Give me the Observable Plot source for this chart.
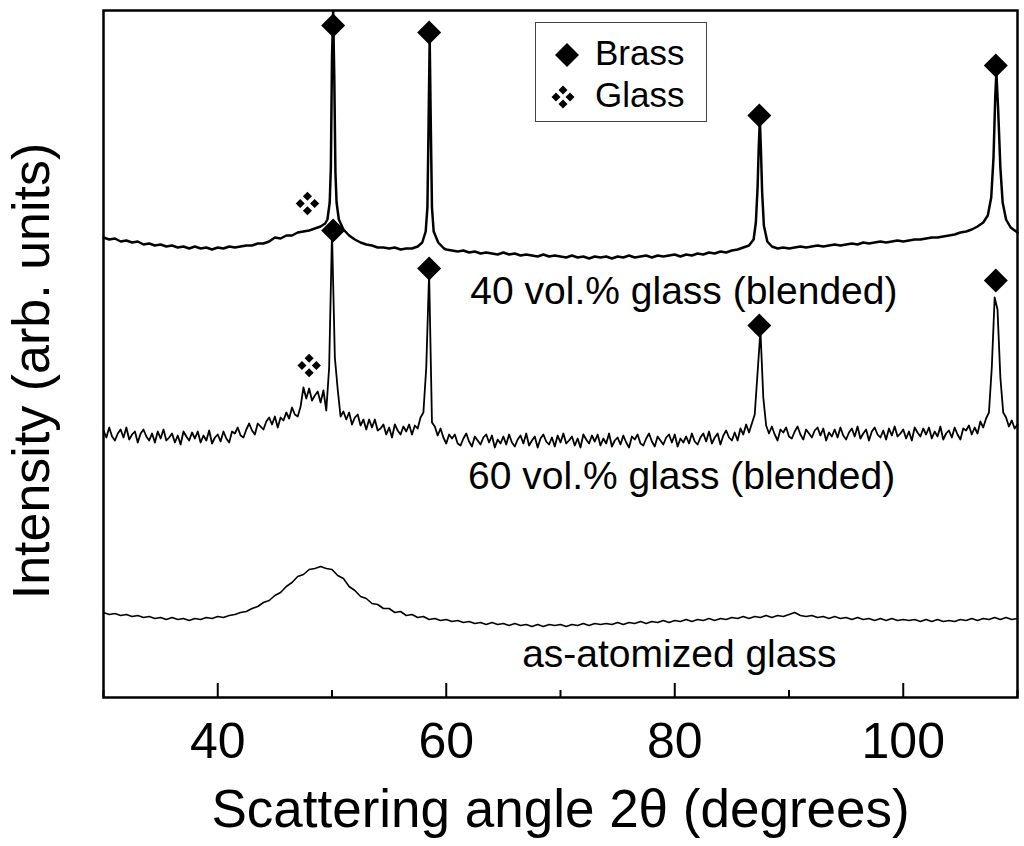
<!DOCTYPE html>
<html>
<head>
<meta charset="utf-8">
<script src="https://cdn.jsdelivr.net/npm/d3@7"></script>
<script src="https://cdn.jsdelivr.net/npm/@observablehq/plot@0.6"></script>
<style>
  html, body { margin: 0; padding: 0; background: #fff; }
  #fig { position: relative; width: 1024px; height: 846px; overflow: hidden; font-family: "Liberation Sans", Arial, sans-serif; }
  #legend { position: absolute; left: 535px; top: 22px; width: 172px; height: 100px; box-sizing: border-box; border: 1.5px solid #444; background: #fff; }
</style>
</head>
<body>
<div id="fig">
  <div id="legend">
    <svg width="172" height="100" style="position:absolute;left:-1.5px;top:-1.5px;overflow:visible">
      <path d="M32,21L44,33L32,45L20,33Z" fill="#000"/>
      <text x="60" y="43" font-size="35" font-family="Liberation Sans, Arial, sans-serif">Brass</text>
      <path d="M28,63.5L32.5,68L28,72.5L23.5,68Z M35,70.5L39.5,75L35,79.5L30.5,75Z M28,77.5L32.5,82L28,86.5L23.5,82Z M21,70.5L25.5,75L21,79.5L16.5,75Z" fill="#000"/>
      <text x="60" y="85" font-size="35" font-family="Liberation Sans, Arial, sans-serif">Glass</text>
    </svg>
  </div>
</div>
<script>
// ---- data: 2θ (degrees), intensity (arb. units, curves offset as in the figure) ----
const xMajorTicks = [40, 60, 80, 100];
const xMinorTicks = [30, 50, 70, 90, 110];

const glass40 = [
[30.0,460],[30.5,458],[31.0,459],[31.5,456],[32.0,457],[32.5,455],[33.0,456],[33.5,453],[34.0,454],[34.5,452],
[35.0,453],[35.5,451],[36.0,452],[36.5,450],[37.0,451],[37.5,449],[38.0,451],[38.5,449],[39.0,450],[39.5,448],
[40.0,450],[40.5,449],[41.0,451],[41.5,450],[42.0,451],[42.5,452],[43.0,452],[43.5,454],[44.0,454],[44.5,456],
[45.0,460],[45.5,459],[46.0,462],[46.5,462],[47.0,465],[47.5,466],[48.0,467],[48.5,469],[49.0,471],[49.4,474],
[49.6,478],[49.8,495],[49.9,530],[50.0,640],[50.1,686],[50.2,620],[50.3,525],[50.4,495],[50.6,478],[51.0,468],
[51.5,462],[52.0,458],[52.5,455],[53.0,453],[53.5,452],[54.0,450],[54.5,450],[55.0,449],[55.5,450],[56.0,448],
[56.5,449],[57.0,449],[57.5,451],[57.9,455],[58.2,466],[58.35,490],[58.45,570],[58.55,659],[58.65,570],[58.75,490],
[58.9,466],[59.3,455],[59.8,449],[60.0,448],[60.5,447],[61.0,446],[61.5,447],[62.0,445],[62.5,446],[63.0,444],
[63.5,445],[64.0,444],[64.5,443],[65.0,445],[65.5,443],[66.0,444],[66.5,442],[67.0,443],[67.5,442],[68.0,441],
[68.5,443],[69.0,441],[69.5,442],[70.0,441],[70.5,440],[71.0,442],[71.5,440],[72.0,441],[72.5,439],[73.0,441],
[73.5,440],[74.0,441],[74.5,439],[75.0,441],[75.5,440],[76.0,442],[76.5,440],[77.0,441],[77.5,442],[78.0,440],
[78.5,442],[79.0,441],[79.5,442],[80.0,443],[80.5,441],[81.0,443],[81.5,442],[82.0,444],[82.5,443],[83.0,445],
[83.5,444],[84.0,446],[84.5,445],[85.0,447],[85.5,448],[86.0,450],[86.5,452],[86.9,458],[87.1,475],[87.25,510],
[87.35,550],[87.45,578],[87.55,545],[87.65,505],[87.8,472],[88.1,456],[88.5,451],[89.0,449],[89.5,450],[90.0,449],
[90.5,450],[91.0,451],[91.5,450],[92.0,451],[92.5,452],[93.0,451],[93.5,452],[94.0,453],[94.5,452],[95.0,453],
[95.5,454],[96.0,453],[96.5,455],[97.0,454],[97.5,455],[98.0,456],[98.5,455],[99.0,456],[99.5,457],[100.0,456],
[100.5,457],[101.0,458],[101.5,458],[102.0,459],[102.5,460],[103.0,460],[103.5,461],[104.0,462],[104.5,463],[105.0,465],
[105.5,466],[106.0,468],[106.5,471],[107.0,475],[107.4,482],[107.7,500],[107.9,540],[108.05,600],[108.15,625],[108.3,590],
[108.5,530],[108.7,495],[109.0,478],[109.4,470],[110.0,465]
];

const glass60 = [
[30.00,267],[30.25,260],[30.50,270],[30.75,261],[31.00,257],[31.25,264],[31.50,268],[31.75,260],[32.00,270],[32.25,258],
[32.50,263],[32.75,266],[33.00,255],[33.25,264],[33.50,268],[33.75,261],[34.00,257],[34.25,264],[34.50,255],[34.75,266],
[35.00,259],[35.25,268],[35.50,257],[35.75,260],[36.00,264],[36.25,255],[36.50,262],[36.75,253],[37.00,266],[37.25,261],
[37.50,257],[37.75,265],[38.00,259],[38.25,266],[38.50,255],[38.75,262],[39.00,257],[39.25,267],[39.50,254],[39.75,260],
[40.00,263],[40.25,256],[40.50,266],[40.75,259],[41.00,255],[41.25,266],[41.50,264],[41.75,270],[42.00,262],[42.25,260],
[42.50,268],[42.75,274],[43.00,267],[43.25,263],[43.50,274],[43.75,271],[44.00,268],[44.25,276],[44.50,280],[44.75,273],
[45.00,281],[45.25,270],[45.50,280],[45.75,277],[46.00,285],[46.25,279],[46.50,290],[46.75,283],[47.00,281],[47.25,291],
[47.50,310],[47.75,299],[48.00,309],[48.25,297],[48.50,302],[48.75,306],[49.00,295],[49.25,307],[49.50,287],[49.75,330],
[50.00,465],[50.25,340],[50.50,308],[50.75,281],[51.00,286],[51.25,278],[51.50,285],[51.75,273],[52.00,280],[52.25,283],
[52.50,272],[52.75,278],[53.00,268],[53.25,278],[53.50,270],[53.75,278],[54.00,267],[54.25,269],[54.50,273],[54.75,263],
[55.00,270],[55.25,260],[55.50,273],[55.75,267],[56.00,263],[56.25,271],[56.50,266],[56.75,273],[57.00,263],[57.25,272],
[57.50,269],[57.75,280],[58.00,285],[58.25,330],[58.50,425],[58.75,275],[59.00,271],[59.25,262],[59.50,269],[59.75,260],
[60.00,254],[60.25,263],[60.50,259],[60.75,263],[61.00,254],[61.25,252],[61.50,259],[61.75,264],[62.00,256],[62.25,251],
[62.50,261],[62.75,257],[63.00,253],[63.25,260],[63.50,263],[63.75,255],[64.00,262],[64.25,250],[64.50,258],[64.75,254],
[65.00,261],[65.25,253],[65.50,263],[65.75,255],[66.00,251],[66.25,258],[66.50,262],[66.75,254],[67.00,264],[67.25,252],
[67.50,257],[67.75,261],[68.00,250],[68.25,259],[68.50,263],[68.75,256],[69.00,253],[69.25,260],[69.50,251],[69.75,262],
[70.00,255],[70.25,264],[70.50,254],[70.75,257],[71.00,261],[71.25,252],[71.50,259],[71.75,250],[72.00,263],[72.25,258],
[72.50,254],[72.75,262],[73.00,256],[73.25,263],[73.50,252],[73.75,259],[74.00,254],[74.25,264],[74.50,251],[74.75,257],
[75.00,260],[75.25,253],[75.50,262],[75.75,255],[76.00,250],[76.25,261],[76.50,258],[76.75,263],[77.00,254],[77.25,252],
[77.50,259],[77.75,264],[78.00,256],[78.25,251],[78.50,261],[78.75,257],[79.00,253],[79.25,260],[79.50,263],[79.75,255],
[80.00,263],[80.25,251],[80.50,259],[80.75,255],[81.00,261],[81.25,254],[81.50,264],[81.75,256],[82.00,253],[82.25,260],
[82.50,264],[82.75,256],[83.00,266],[83.25,254],[83.50,260],[83.75,264],[84.00,253],[84.25,262],[84.50,267],[84.75,260],
[85.00,257],[85.25,265],[85.50,257],[85.75,269],[86.00,263],[86.25,273],[86.50,265],[86.75,274],[87.00,283],[87.25,325],
[87.50,367],[87.75,300],[88.00,272],[88.25,264],[88.50,271],[88.75,263],[89.00,257],[89.25,268],[89.50,265],[89.75,270],
[90.00,261],[90.25,259],[90.50,266],[90.75,271],[91.00,263],[91.25,258],[91.50,268],[91.75,264],[92.00,260],[92.25,267],
[92.50,270],[92.75,262],[93.00,269],[93.25,257],[93.50,265],[93.75,261],[94.00,268],[94.25,260],[94.50,270],[94.75,262],
[95.00,258],[95.25,265],[95.50,269],[95.75,261],[96.00,271],[96.25,259],[96.50,264],[96.75,268],[97.00,257],[97.25,266],
[97.50,270],[97.75,263],[98.00,260],[98.25,267],[98.50,258],[98.75,269],[99.00,262],[99.25,271],[99.50,261],[99.75,264],
[100.00,268],[100.25,259],[100.50,266],[100.75,257],[101.00,270],[101.25,265],[101.50,261],[101.75,269],[102.00,263],[102.25,270],
[102.50,259],[102.75,266],[103.00,261],[103.25,271],[103.50,258],[103.75,264],[104.00,267],[104.25,260],[104.50,270],[104.75,263],
[105.00,258],[105.25,269],[105.50,267],[105.75,272],[106.00,263],[106.25,270],[106.50,264],[106.75,276],[107.00,270],[107.25,279],
[107.50,285],[107.75,330],[108.00,400],[108.25,388],[108.50,320],[108.75,285],[109.00,280],[109.25,271],[109.50,277],[109.75,269],
[110.00,273]
];

const asAtomized = [
[30.0,85],[30.5,83],[31.0,84],[31.5,82],[32.0,83],[32.5,81],[33.0,82],[33.5,80],[34.0,81],[34.5,79],
[35.0,80],[35.5,78],[36.0,80],[36.5,78],[37.0,79],[37.5,77],[38.0,79],[38.5,78],[39.0,80],[39.5,79],
[40.0,81],[40.5,80],[41.0,82],[41.5,83],[42.0,85],[42.5,86],[43.0,89],[43.5,91],[44.0,95],[44.5,97],
[45.0,102],[45.5,105],[46.0,111],[46.5,115],[47.0,121],[47.5,123],[48.0,128],[48.5,129],[49.0,131],[49.5,129],
[50.0,128],[50.5,122],[51.0,119],[51.5,111],[52.0,107],[52.5,101],[53.0,99],[53.5,94],[54.0,93],[54.5,89],
[55.0,89],[55.5,85],[56.0,86],[56.5,82],[57.0,83],[57.5,80],[58.0,81],[58.5,78],[59.0,79],[59.5,77],
[60.0,78],[60.5,76],[61.0,77],[61.5,75],[62.0,76],[62.5,74],[63.0,75],[63.5,73],[64.0,75],[64.5,73],
[65.0,74],[65.5,72],[66.0,74],[66.5,72],[67.0,73],[67.5,71],[68.0,73],[68.5,71],[69.0,73],[69.5,72],
[70.0,73],[70.5,71],[71.0,73],[71.5,72],[72.0,74],[72.5,72],[73.0,74],[73.5,73],[74.0,74],[74.5,73],
[75.0,75],[75.5,73],[76.0,75],[76.5,74],[77.0,76],[77.5,74],[78.0,76],[78.5,75],[79.0,77],[79.5,75],
[80.0,77],[80.5,76],[81.0,78],[81.5,76],[82.0,78],[82.5,77],[83.0,79],[83.5,77],[84.0,79],[84.5,78],
[85.0,80],[85.5,79],[86.0,81],[86.5,79],[87.0,81],[87.5,80],[88.0,82],[88.5,80],[89.0,82],[89.5,81],
[90.0,83],[90.5,85],[91.0,82],[91.5,81],[92.0,82],[92.5,80],[93.0,81],[93.5,79],[94.0,81],[94.5,79],
[95.0,80],[95.5,78],[96.0,80],[96.5,78],[97.0,79],[97.5,77],[98.0,79],[98.5,77],[99.0,79],[99.5,77],
[100.0,78],[100.5,77],[101.0,78],[101.5,76],[102.0,78],[102.5,76],[103.0,78],[103.5,76],[104.0,77],[104.5,76],
[105.0,78],[105.5,77],[106.0,79],[106.5,77],[107.0,79],[107.5,78],[108.0,80],[108.5,78],[109.0,80],[109.5,78],
[110.0,79]
];

// phase markers (2θ, intensity)
const brassMarks = [[50.1,672],[58.5,665],[87.4,582],[108.1,632],[50.1,467],[58.5,429],[87.4,372],[108.1,417]];
const glassMarks = [[47.85,494],[48.0,332]];

// curve labels
const labelText = ["40 vol.% glass (blended)", "60 vol.% glass (blended)", "as-atomized glass"];
const labelX = [80.8, 80.6, 80.4];
const labelY = [394, 209, 31];

const xTitle = "Scattering angle 2θ (degrees)";
const yTitle = "Intensity (arb. units)";

// custom symbols
const diamondSym = { draw(ctx, size) { const r = Math.sqrt(size / Math.PI); ctx.moveTo(0, -r); ctx.lineTo(r, 0); ctx.lineTo(0, r); ctx.lineTo(-r, 0); ctx.closePath(); } };
const quadDiamondSym = { draw(ctx, size) {
  const r = Math.sqrt(size / Math.PI), o = 0.6 * r, h = 0.38 * r;
  for (const [cx, cy] of [[0,-o],[o,0],[0,o],[-o,0]]) {
    ctx.moveTo(cx, cy - h); ctx.lineTo(cx + h, cy); ctx.lineTo(cx, cy + h); ctx.lineTo(cx - h, cy); ctx.closePath();
  }
} };

const labels = labelText.map((t, i) => ({t, x: labelX[i], y: labelY[i]}));

const chart = Plot.plot({
  width: 1024,
  height: 846,
  marginLeft: 103,
  marginRight: 7,
  marginTop: 10,
  marginBottom: 149,
  style: { fontFamily: "Liberation Sans, Arial, sans-serif", color: "#000", background: "#fff" },
  x: { domain: [30, 110] },
  y: { domain: [0, 687], axis: null },
  marks: [
    Plot.line(asAtomized, { x: d => d[0], y: d => d[1], stroke: "#000", strokeWidth: 1.6 }),
    Plot.line(glass60, { x: d => d[0], y: d => d[1], stroke: "#000", strokeWidth: 1.8 }),
    Plot.line(glass40, { x: d => d[0], y: d => d[1], stroke: "#000", strokeWidth: 2.5 }),
    Plot.dot(brassMarks, { x: d => d[0], y: d => d[1], r: 12, symbol: diamondSym, fill: "#000", stroke: "none" }),
    Plot.dot(glassMarks, { x: d => d[0], y: d => d[1], r: 12, symbol: quadDiamondSym, fill: "#000", stroke: "none" }),
    Plot.text(labels, { x: "x", y: "y", text: "t", fontSize: 39, lineAnchor: "bottom", textAnchor: "middle", fill: "#000" }),
    Plot.axisX({ ticks: xMajorTicks, tickSize: -14, tickPadding: 39, fontSize: 50, label: null, strokeWidth: 2, tickFormat: d => String(d) }),
    Plot.axisX({ ticks: xMinorTicks, tickSize: -7, tickPadding: 0, label: null, strokeWidth: 2, tickFormat: () => "" }),
    Plot.text([xTitle], { frameAnchor: "bottom", text: d => d, dy: 113, fontSize: 53, textAnchor: "middle", lineAnchor: "middle", fill: "#000" }),
    Plot.text([yTitle], { frameAnchor: "left", text: d => d, rotate: -90, dx: -71, dy: 17, fontSize: 52, textAnchor: "middle", lineAnchor: "middle", fill: "#000" }),
    Plot.frame({ stroke: "#000", strokeWidth: 2.5 })
  ]
});

document.getElementById("fig").insertBefore(chart, document.getElementById("legend"));
chart.style.position = "absolute";
chart.style.left = "0px";
chart.style.top = "0px";
</script>
</body>
</html>
